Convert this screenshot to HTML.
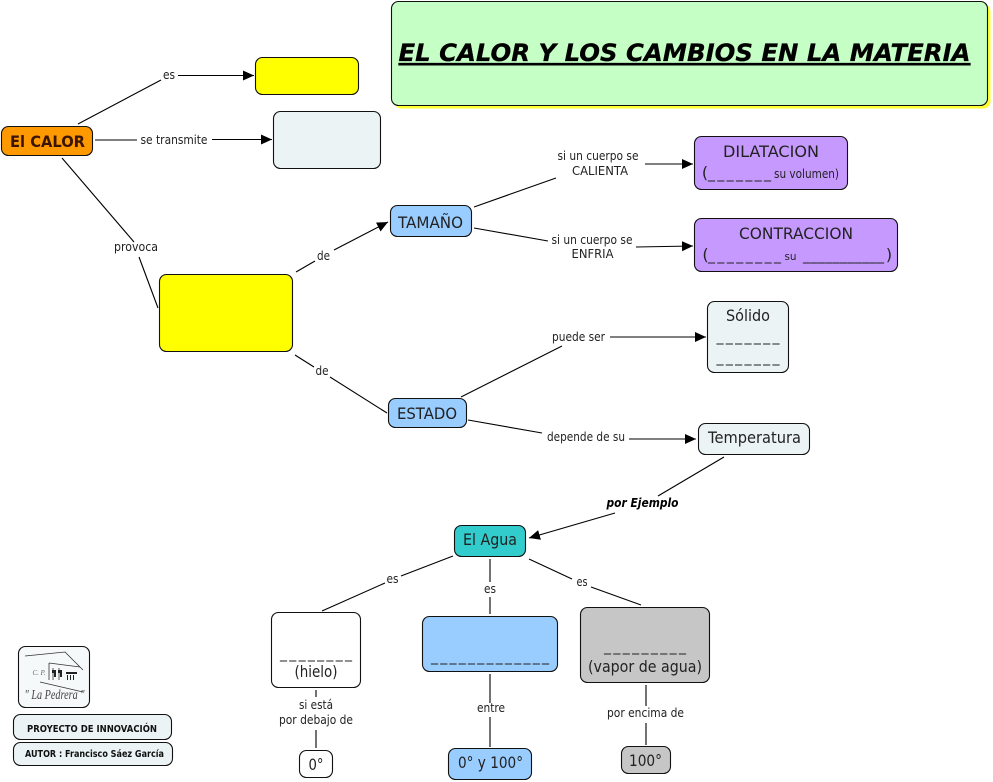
<!DOCTYPE html>
<html><head><meta charset="utf-8"><style>
html,body{margin:0;padding:0;background:#fff}
svg{display:block}
text{font-family:"DejaVu Sans","Liberation Sans",sans-serif;fill:#222;text-anchor:middle}
.b{stroke:#111;stroke-width:1.100}
.l{stroke:#000;stroke-width:1.100;fill:none}
.s{font-size:12px}
.m{font-size:16px}
</style></head><body>
<svg width="993" height="782" viewBox="0 0 993 782" xmlns="http://www.w3.org/2000/svg">
<defs><marker id="a" markerUnits="userSpaceOnUse" markerWidth="12" markerHeight="12" refX="11" refY="6" orient="auto"><path d="M0 1L11 6L0 11z" fill="#000"/></marker></defs>
<rect width="993" height="782" fill="#fff"/>
<rect x="394.500" y="4.500" width="596" height="104" rx="7" fill="#ffff33"/>
<rect class="b" x="391.500" y="1.500" width="596" height="104" rx="7" fill="#c6ffc6"/>
<text x="684.500" y="61" textLength="572" lengthAdjust="spacingAndGlyphs" style="font-size:24px;font-weight:bold;font-style:italic;text-decoration:underline;fill:#000;stroke:#000;stroke-width:.3">EL CALOR Y LOS CAMBIOS EN LA MATERIA</text>
<g class="l">
<path d="M78 124L161 80M95 140H137M62 158L134 242M139 257L158 308M296 272L315 261M295 355L314 367M330 377L387 413M474 207L556 178M474 228L548 241M461 397L562 346M468 420L542 433M724 457L658 496M453 556L401 576M385 583L322 611M490 559V582M490 597V614M529 559L572 579M591 587L641 605M316 690V697M316 730V748M490 674V703M490 717V747M646 685V706M646 723V745"/>
<path d="M178 75.500H254" marker-end="url(#a)"/>
<path d="M212 139.500H272" marker-end="url(#a)"/>
<path d="M334 250L388 222" marker-end="url(#a)"/>
<path d="M645 164H693" marker-end="url(#a)"/>
<path d="M636 247L693 246" marker-end="url(#a)"/>
<path d="M610 337H706" marker-end="url(#a)"/>
<path d="M629 439H696" marker-end="url(#a)"/>
<path d="M615 513L529 538" marker-end="url(#a)"/>
</g>
<g class="b">
<rect x="255.500" y="57.500" width="103" height="37" rx="7" fill="#ffff00"/>
<rect x="273.500" y="111.500" width="107" height="57" rx="7" fill="#ecf3f5"/>
<rect x="1.500" y="126.500" width="91" height="29" rx="7" fill="#ff9900"/>
<rect x="159.500" y="274.500" width="133" height="77" rx="7" fill="#ffff00"/>
<rect x="390.500" y="205.500" width="81" height="31" rx="7" fill="#99ccff"/>
<rect x="388.500" y="398.500" width="78" height="29" rx="7" fill="#99ccff"/>
<rect x="694.500" y="136.500" width="153" height="53" rx="7" fill="#c699ff"/>
<rect x="694.500" y="218.500" width="203" height="53" rx="7" fill="#c699ff"/>
<rect x="707.500" y="301.500" width="81" height="71" rx="7" fill="#ecf3f5"/>
<rect x="698.500" y="423.500" width="111" height="31" rx="7" fill="#ecf3f5"/>
<rect x="454.500" y="525.500" width="71" height="31" rx="7" fill="#33cccc"/>
<rect x="271.500" y="612.500" width="89" height="75" rx="7" fill="#fff"/>
<rect x="422.500" y="616.500" width="135" height="55" rx="7" fill="#99ccff"/>
<rect x="580.500" y="607.500" width="129" height="75" rx="7" fill="#c6c6c6"/>
<rect x="299.500" y="750.500" width="33" height="27" rx="7" fill="#fff"/>
<rect x="448.500" y="748.500" width="83" height="31" rx="7" fill="#99ccff"/>
<rect x="621.500" y="746.500" width="49" height="27" rx="7" fill="#c6c6c6"/>
<rect x="18.500" y="646.500" width="71" height="61" rx="7" fill="#f6f9fa"/>
<rect x="13.500" y="714.500" width="158" height="25" rx="7" fill="#ecf3f5"/>
<rect x="13.500" y="742.500" width="159" height="23" rx="7" fill="#ecf3f5"/>
</g>
<g class="s">
<text x="169" y="79" textLength="12" lengthAdjust="spacingAndGlyphs">es</text>
<text x="174" y="144" textLength="67" lengthAdjust="spacingAndGlyphs">se transmite</text>
<text x="136" y="251" textLength="44" lengthAdjust="spacingAndGlyphs">provoca</text>
<text x="323.500" y="260" textLength="13" lengthAdjust="spacingAndGlyphs">de</text>
<text x="322" y="375" textLength="13" lengthAdjust="spacingAndGlyphs">de</text>
<text x="598" y="160" textLength="81" lengthAdjust="spacingAndGlyphs">si un cuerpo se</text>
<text x="600" y="175" textLength="56" lengthAdjust="spacingAndGlyphs">CALIENTA</text>
<text x="592" y="244" textLength="81" lengthAdjust="spacingAndGlyphs">si un cuerpo se</text>
<text x="592.500" y="258" textLength="42" lengthAdjust="spacingAndGlyphs">ENFRIA</text>
<text x="578.500" y="341" textLength="53" lengthAdjust="spacingAndGlyphs">puede ser</text>
<text x="586" y="441" textLength="78" lengthAdjust="spacingAndGlyphs">depende de su</text>
<text x="642.500" y="507" textLength="72" lengthAdjust="spacingAndGlyphs" style="font-weight:bold;font-style:italic;fill:#000">por Ejemplo</text>
<text x="392.500" y="583" textLength="12" lengthAdjust="spacingAndGlyphs">es</text>
<text x="490" y="593" textLength="12" lengthAdjust="spacingAndGlyphs">es</text>
<text x="582" y="586" textLength="11" lengthAdjust="spacingAndGlyphs">es</text>
<text x="316" y="709" textLength="34" lengthAdjust="spacingAndGlyphs">si está</text>
<text x="316" y="724" textLength="74" lengthAdjust="spacingAndGlyphs">por debajo de</text>
<text x="491" y="712" textLength="28" lengthAdjust="spacingAndGlyphs">entre</text>
<text x="645.500" y="717" textLength="77" lengthAdjust="spacingAndGlyphs">por encima de</text>
</g>
<g class="m">
<text x="47.500" y="147" textLength="75" lengthAdjust="spacingAndGlyphs" style="font-weight:bold;fill:#3a1500">El CALOR</text>
<text x="430.500" y="228" textLength="65" lengthAdjust="spacingAndGlyphs">TAMAÑO</text>
<text x="427" y="419" textLength="60" lengthAdjust="spacingAndGlyphs">ESTADO</text>
<text x="771" y="157" textLength="96" lengthAdjust="spacingAndGlyphs">DILATACION</text>
<text x="705" y="178">(</text>
<text x="739.500" y="178" textLength="63" style="font-size:14px">_______</text>
<text x="806.500" y="178" textLength="65" lengthAdjust="spacingAndGlyphs" style="font-size:12px">su volumen)</text>
<text x="796" y="239" textLength="114" lengthAdjust="spacingAndGlyphs">CONTRACCION</text>
<text x="705.500" y="260">(</text>
<text x="744.500" y="260" textLength="73" style="font-size:14px">________</text>
<text x="790.500" y="260" style="font-size:11px" textLength="12" lengthAdjust="spacingAndGlyphs">su</text>
<text x="843.500" y="260" textLength="81" style="font-size:14px">___________</text>
<text x="889" y="260">)</text>
<text x="748" y="321" textLength="44" lengthAdjust="spacingAndGlyphs">Sólido</text>
<text x="748" y="341" textLength="63" style="font-size:14px">_______</text>
<text x="748" y="362" textLength="63" style="font-size:14px">_______</text>
<text x="754.500" y="443" textLength="93" lengthAdjust="spacingAndGlyphs">Temperatura</text>
<text x="490" y="545" textLength="54" lengthAdjust="spacingAndGlyphs">El Agua</text>
<text x="316" y="658" textLength="72" style="font-size:14px">________</text>
<text x="316" y="677" textLength="43" lengthAdjust="spacingAndGlyphs">(hielo)</text>
<text x="490" y="661" textLength="118" style="font-size:14px">_____________</text>
<text x="645" y="651" textLength="82" style="font-size:14px">_________</text>
<text x="645" y="672" textLength="114" lengthAdjust="spacingAndGlyphs">(vapor de agua)</text>
<text x="316" y="770" textLength="15" lengthAdjust="spacingAndGlyphs">0°</text>
<text x="490.500" y="768" textLength="65" lengthAdjust="spacingAndGlyphs">0° y 100°</text>
<text x="645.500" y="766" textLength="33" lengthAdjust="spacingAndGlyphs">100°</text>
</g>
<text x="92" y="732" textLength="130" lengthAdjust="spacingAndGlyphs" style="font-size:10px;font-weight:bold;fill:#111">PROYECTO DE INNOVACIÓN</text>
<text x="94.500" y="757" textLength="139" lengthAdjust="spacingAndGlyphs" style="font-size:10px;font-weight:bold;fill:#111">AUTOR : Francisco Sáez García</text>
<g fill="none" stroke="#333" stroke-width=".8">
<path d="M25 656L65 652L83 670M49 663L80 667M49 663V680M53 668V680M59 668V680M40 682L83 692"/>
</g>
<path d="M52 670h4v7h-2v-4h-2zM58 670h4v7h-2v-4h-2zM66 672h11v2h-11zM67 675h1v5h-1zM70 675h1v5h-1zM73 675h1v5h-1z" fill="#222"/>
<text x="39" y="675" textLength="13" style="font-size:7px;font-family:'Liberation Serif',serif;fill:#666;font-style:italic">C. P.</text>
<text x="54.500" y="699" textLength="60" lengthAdjust="spacingAndGlyphs" style="font-size:14px;font-family:'Liberation Serif',serif;fill:#444;font-style:italic">" La Pedrera "</text>
</svg>
</body></html>
